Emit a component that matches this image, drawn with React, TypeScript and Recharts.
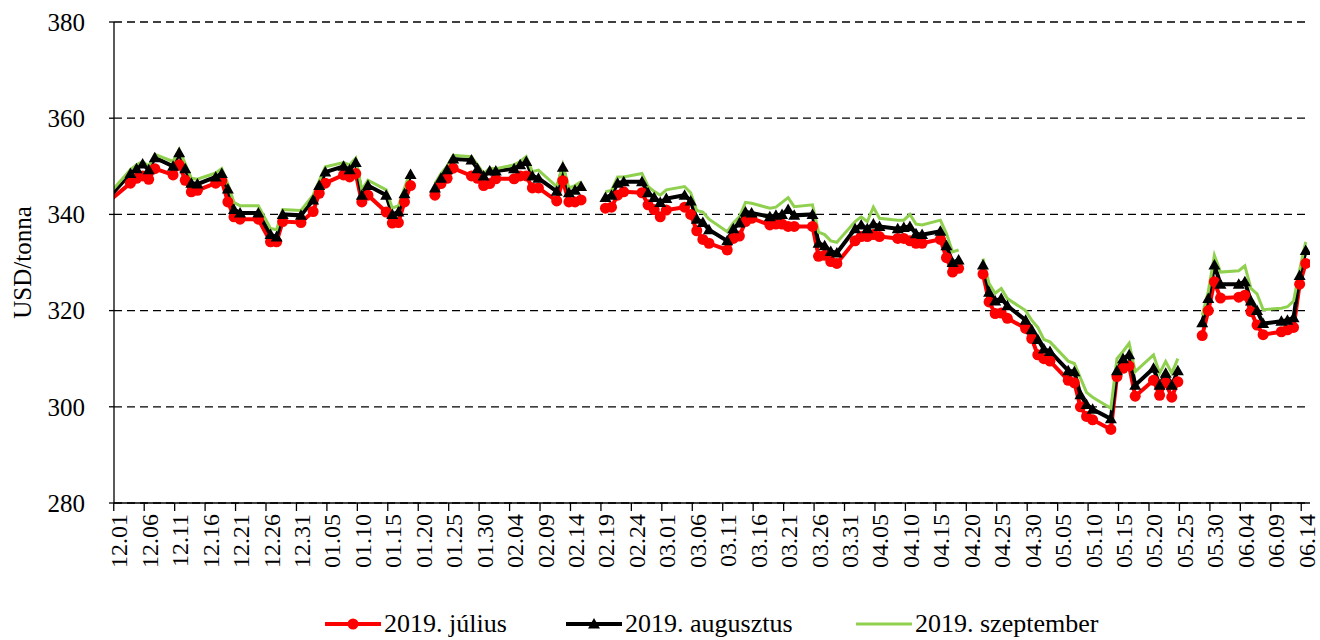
import { LineChart, Line, XAxis, YAxis, CartesianGrid } from 'recharts'

// trading days (MM.DD), Dec 2018 – Jun 2019; null rows = US holidays (gap in the lines)
const dates = [
  '11.30',
  '12.03', '12.04', '12.05', '12.06', '12.07',
  '12.10', '12.11', '12.12', '12.13', '12.14',
  '12.17', '12.18', '12.19', '12.20', '12.21',
  '12.24', '12.26', '12.27', '12.28',
  '12.31', '01.02', '01.03', '01.04',
  '01.07', '01.08', '01.09', '01.10', '01.11',
  '01.14', '01.15', '01.16', '01.17', '01.18',
  '01.21', '01.22', '01.23', '01.24', '01.25',
  '01.28', '01.29', '01.30', '01.31', '02.01',
  '02.04', '02.05', '02.06', '02.07', '02.08',
  '02.11', '02.12', '02.13', '02.14', '02.15',
  '02.18', '02.19', '02.20', '02.21', '02.22',
  '02.25', '02.26', '02.27', '02.28', '03.01',
  '03.04', '03.05', '03.06', '03.07', '03.08',
  '03.11', '03.12', '03.13', '03.14', '03.15',
  '03.18', '03.19', '03.20', '03.21', '03.22',
  '03.25', '03.26', '03.27', '03.28', '03.29',
  '04.01', '04.02', '04.03', '04.04', '04.05',
  '04.08', '04.09', '04.10', '04.11', '04.12',
  '04.15', '04.16', '04.17', '04.18', '04.19',
  '04.22', '04.23', '04.24', '04.25', '04.26',
  '04.29', '04.30', '05.01', '05.02', '05.03',
  '05.06', '05.07', '05.08', '05.09', '05.10',
  '05.13', '05.14', '05.15', '05.16', '05.17',
  '05.20', '05.21', '05.22', '05.23', '05.24',
  '05.27', '05.28', '05.29', '05.30', '05.31',
  '06.03', '06.04', '06.05', '06.06', '06.07',
  '06.10', '06.11', '06.12', '06.13', '06.14',
]

const julius = [
  343.3,
  346.5, 347.5, 348, 347.3, 349.5,
  348.2, 350.3, 347.1, 344.7, 345,
  346.5, 347, 342.6, 339.5, 339,
  339, 334.3, 334.3, 338.5,
  338.3, 340.6, 344.4, 346.5,
  348.2, 347.8, 348.5, 342.6, 344,
  340.5, 338.2, 338.3, 342.6, 346,
  null, 344, 346.4, 347.5, 349.6,
  348, 347.5, 346, 346.4, 347.4,
  347.4, 348, 348, 345.5, 345.5,
  342.8, 347, 342.6, 342.6, 343,
  null, 341.3, 341.5, 344, 344.7,
  344.5, 342, 341, 339.5, 340.9,
  341.5, 340, 336.6, 334.8, 334,
  332.6, 335, 335.5, 338.5, 339.2,
  337.8, 338, 338, 337.5, 337.5,
  337.5, 331.3, 331.5, 330.2, 329.8,
  334.5, 335.4, 335.4, 335.8, 335.4,
  335, 335, 334.5, 334, 334,
  334.8, 331, 328, 328.8, null,
  327.6, 321.8, 319.4, 319.5, 318.4,
  316.3, 314.2, 310.8, 310, 309.5,
  305.5, 305, 300, 298, 297.3,
  295.3, 306.3, 308, 308.5, 302.2,
  305.5, 302.4, 305, 302, 305.2,
  null, 314.8, 320, 326, 322.6,
  322.8, 323.2, 319.8, 317, 315,
  315.6, 316, 316.5, 325.5, 329.8,
]

const augusztus = [
  344.3,
  348.5, 349.5, 350.5, 349.3, 351.8,
  350, 352.8, 349.5, 346.5, 346.3,
  347.8, 348.5, 345.3, 341, 340.3,
  340.3, 335.8, 335.3, 340,
  339.8, 343, 346, 348.8,
  350, 349.3, 350.8, 344, 346,
  344, 340, 340.5, 344.3, 348.3,
  null, 345.5, 347.5, 349.3, 351.5,
  351.3, 349.5, 348, 349, 349,
  349.5, 350.3, 351, 348, 347.5,
  344.8, 349.8, 344.5, 345, 345.8,
  null, 343.5, 344, 346.5, 346.8,
  346.8, 344.5, 343.5, 342.5, 343.3,
  344, 342.8, 339, 338.3, 336.8,
  334.5, 337, 338.2, 340.5, 340.3,
  339.5, 339.8, 340, 341, 339.8,
  340, 334, 333.5, 332.3, 332,
  337, 337.8, 337, 338, 337.5,
  337, 337.3, 337.5, 336, 335.8,
  336.5, 333.5, 330, 330.5, null,
  329.5, 323.8, 322, 322.5, 321,
  318, 316, 314, 312, 311.5,
  307.5, 307.3, 302.5, 300.5, 299.5,
  297.5, 307.5, 310, 310.8, 304.5,
  308, 304.5, 307, 304.5, 307.5,
  null, 317.5, 322.5, 329.5, 325.5,
  325.5, 326, 322, 320, 317.3,
  317.8, 318, 318.5, 327.3, 332.5,
]

const szeptember = [
  345,
  349.3, 350.3, 351, 350, 352.5,
  351, 353.5, 350.5, 347.5, 347.3,
  348.6, 349.5, 346.3, 342.5, 341.8,
  341.8, 337.1, 336.8, 341,
  340.8, 344, 347, 349.9,
  350.8, 350.3, 351.7, 345.1, 347.1,
  345.1, 341.3, 341.8, 345.5, 349,
  null, 346.4, 348.5, 350, 352.3,
  352, 350.3, 348.5, 349.6, 349.5,
  350.3, 351, 352, 348.9, 349.2,
  345.8, 350.3, 345.5, 346, 346.8,
  null, 344.7, 345, 347.8, 347.8,
  348.5, 345.8, 344.8, 344, 345.1,
  345.8, 344.5, 340.8, 340.5, 339,
  336.4, 338.2, 339.5, 342.5, 342.3,
  341.3, 341.5, 342.5, 343.5, 341.6,
  342, 336.3, 335.8, 334.5, 334.2,
  338.5, 339.5, 338.5, 341.5, 339.2,
  338.8, 338.8, 340, 338, 337.8,
  338.8, 336, 332.2, 332.6, null,
  330.8, 325.6, 323.6, 324.6, 322.5,
  320, 318, 316.5, 314, 313.5,
  309.5, 309, 306, 303, 302,
  299.7, 310, 311.5, 313.2, 307.3,
  310.8, 307, 309.4, 307, 310,
  null, 319, 324, 331.5, 328,
  328.3, 329.3, 324.6, 323.5, 320.2,
  320.5, 320.8, 322, 328.5, 334.3,
]

const tickLabels = [
  '12.01', '12.06', '12.11', '12.16', '12.21', '12.26', '12.31', '01.05', '01.10', '01.15',
  '01.20', '01.25', '01.30', '02.04', '02.09', '02.14', '02.19', '02.24', '03.01', '03.06',
  '03.11', '03.16', '03.21', '03.26', '03.31', '04.05', '04.10', '04.15', '04.20', '04.25',
  '04.30', '05.05', '05.10', '05.15', '05.20', '05.25', '05.30', '06.04', '06.09', '06.14',
]

const yTicks = [280, 300, 320, 340, 360, 380]

const FONT = "'Liberation Serif', 'Times New Roman', serif"
const GREEN = '#8fd14f'

// day number counted from 2018-12-01
const dayOf = (s: string) => {
  const [m, d] = s.split('.').map(Number)
  const year = m >= 11 ? 2018 : 2019
  return Math.round((Date.UTC(year, m - 1, d) - Date.UTC(2018, 11, 1)) / 86400000)
}

const data = dates.map((s, i) => ({
  day: dayOf(s),
  julius: julius[i],
  augusztus: augusztus[i],
  szeptember: szeptember[i],
}))

const tickDays = tickLabels.map(dayOf)
const labelByDay: Record<number, string> = {}
tickLabels.forEach(l => { labelByDay[dayOf(l)] = l })

function DateTick({ x, y, payload }: any) {
  const lx = x + 1
  return (
    <g>
      <line x1={x - 4.5} y1={y - 12} x2={x - 4.5} y2={y - 4} stroke="#000" strokeWidth={1.3} />
      <text x={lx} y={y - 1} transform={`rotate(-90 ${lx} ${y - 1})`} textAnchor="end"
        dominantBaseline="central" fontSize={24} fontFamily={FONT} fill="#000">
        {labelByDay[payload.value]}
      </text>
    </g>
  )
}

function RedDot({ cx, cy, payload }: any) {
  if (cy == null || payload.day < 0) return <g />
  return <circle cx={cx} cy={cy} r={5.5} fill="#ff0000" />
}

function Triangle({ cx, cy, payload }: any) {
  if (cy == null || payload.day < 0) return <g />
  return <polygon points={`${cx},${cy - 6} ${cx + 6},${cy + 4.5} ${cx - 6},${cy + 4.5}`} fill="#000" />
}

function YLabel({ viewBox }: any) {
  const cx = 22
  const cy = viewBox.y + viewBox.height / 2
  return (
    <text x={cx} y={cy} transform={`rotate(-90 ${cx} ${cy})`} textAnchor="middle"
      dominantBaseline="central" fontSize={25} fontFamily={FONT} fill="#000">
      USD/tonna
    </text>
  )
}

const legendItems = [
  { name: '2019. július', color: '#ff0000', marker: 'dot', left: 325 },
  { name: '2019. augusztus', color: '#000', marker: 'tri', left: 566 },
  { name: '2019. szeptember', color: GREEN, marker: 'none', left: 856 },
]

export default function App() {
  return (
    <div style={{ position: 'fixed', left: 0, top: 0, width: 1320, height: 640, background: '#fff', overflow: 'hidden' }}>
      <LineChart width={1320} height={583} data={data}
        margin={{ top: 22, right: 10, bottom: 0, left: 0 }}>
        <CartesianGrid vertical={false} stroke="#000" strokeWidth={1.3} strokeDasharray="8 5" />
        <XAxis dataKey="day" type="number" domain={[-0.7, 195.7]} allowDataOverflow
          ticks={tickDays} interval={0} height={80} tickSize={8} tickMargin={4}
          tickLine={false} axisLine={{ stroke: '#000', strokeWidth: 1.3 }}
          tick={<DateTick />} />
        <YAxis domain={[280, 380]} ticks={yTicks} interval={0} width={114}
          tickSize={5} tickMargin={24} tickLine={{ stroke: '#000', strokeWidth: 1.3 }}
          axisLine={{ stroke: '#000', strokeWidth: 1.3 }}
          tick={{ fontSize: 25, fontFamily: FONT, fill: '#000' }}
          label={<YLabel />} />
        <Line type="linear" dataKey="julius" stroke="#ff0000" strokeWidth={4}
          dot={<RedDot />} activeDot={false} isAnimationActive={false} />
        <Line type="linear" dataKey="augusztus" stroke="#000" strokeWidth={4}
          dot={<Triangle />} activeDot={false} isAnimationActive={false} />
        <Line type="linear" dataKey="szeptember" stroke={GREEN} strokeWidth={3}
          dot={false} activeDot={false} isAnimationActive={false} />
      </LineChart>

      {legendItems.map(it => (
        <div key={it.name} style={{ position: 'absolute', left: it.left, top: 610, display: 'flex',
          alignItems: 'center', fontFamily: FONT, fontSize: 26, lineHeight: '28px', color: '#000' }}>
          <svg width={56} height={14} style={{ marginRight: 3 }}>
            <line x1={0} y1={7} x2={56} y2={7} stroke={it.color} strokeWidth={it.marker === 'none' ? 3 : 4} />
            {it.marker === 'dot' && <circle cx={28} cy={7} r={5.5} fill={it.color} />}
            {it.marker === 'tri' && <polygon points="28,1 34,11.5 22,11.5" fill={it.color} />}
          </svg>
          <span>{it.name}</span>
        </div>
      ))}
    </div>
  )
}
